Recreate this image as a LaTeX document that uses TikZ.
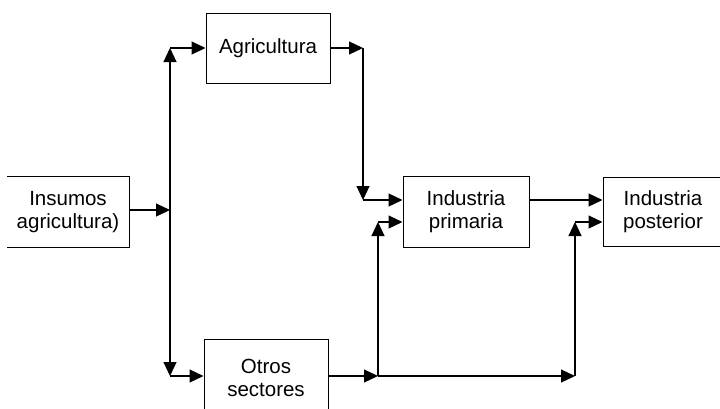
\documentclass[tikz,border=0pt]{standalone}
\usepackage{fontspec}
\setmainfont{Liberation Sans}
\usetikzlibrary{arrows.meta}
\begin{document}
\begin{tikzpicture}[x=1pt,y=-1pt,
  box/.style={draw,line width=1pt,minimum height=70pt,inner sep=0pt,align=center,
    font=\fontsize{20.5}{23}\selectfont},
  plain/.style={draw=none,inner sep=0pt,align=center,font=\fontsize{20.5}{23}\selectfont},
  tip/.tip={Triangle[length=14pt,width=13pt]},
  flow/.style={line width=1.1pt,-tip},
  twoway/.style={line width=1.1pt,tip-tip}]
\useasboundingbox (0,0) rectangle (720,408);
\clip (0,0) rectangle (720,408);

% sector boxes
\node[plain,minimum width=122pt,minimum height=70pt] (ins) at (68,212) {Insumos\\agricultura)};
\draw[line width=1pt] (ins.north west) -- (ins.north east) -- (ins.south east) -- (ins.south west);
\node[box,minimum width=124pt] (agr) at (268,48) {Agricultura};
\node[box,minimum width=124pt,minimum height=78pt] (otr) at (266,378) {Otros\\sectores};
\node[box,minimum width=126pt,minimum height=71pt] (ip) at (466,211.5) {Industria\\primaria};
\node[box,minimum width=120pt,minimum height=69pt] (ipo) at (663,211.5) {Industria\\posterior};

% junction points
\coordinate (s) at (170,210);
\coordinate (t) at (170,48);
\coordinate (b) at (170,376);
\coordinate (a1) at (363,48);
\coordinate (a2) at (363,200);
\coordinate (o1) at (378,376);
\coordinate (o2) at (378,222);
\coordinate (o3) at (575,376);
\coordinate (o4) at (575,222);

% inputs split to agriculture and other sectors
\draw[flow] (ins.east |- s) -- (s);
\draw[twoway] (b) -- (t);
\draw[flow] (t) -- (agr.west);
\draw[flow] (b) -- (otr.west |- b);

% agriculture to primary industry
\draw[flow] (agr.east) -- (a1);
\draw[flow] (a1) -- (a2);
\draw[flow] (a2) -- (ip.west |- a2);

% other sectors to both industries
\draw[flow] (otr.east |- o1) -- (o1);
\draw[flow] (o1) -- (o2);
\draw[flow] (o2) -- (ip.west |- o2);
\draw[flow] (o1) -- (o3);
\draw[flow] (o3) -- (o4);
\draw[flow] (o4) -- (ipo.west |- o4);

% primary to downstream industry
\draw[flow] (ip.east |- a2) -- (ipo.west |- a2);
\end{tikzpicture}
\end{document}
